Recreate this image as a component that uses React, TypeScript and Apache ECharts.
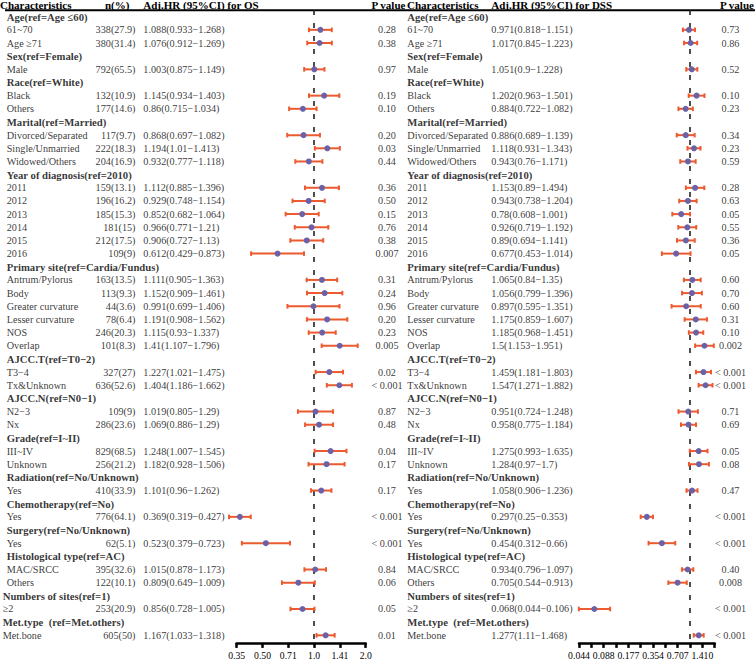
import React, { useEffect, useRef } from "react";
import * as echarts from "echarts";

// ---------- data ----------
const labels = [
  "Age(ref=Age ≤60)", "61~70", "Age ≥71",
  "Sex(ref=Female)", "Male",
  "Race(ref=White)", "Black", "Others",
  "Marital(ref=Married)", "Divorced/Separated", "Single/Unmarried", "Widowed/Others",
  "Year of diagnosis(ref=2010)", "2011", "2012", "2013", "2014", "2015", "2016",
  "Primary site(ref=Cardia/Fundus)", "Antrum/Pylorus", "Body", "Greater curvature", "Lesser curvature", "NOS", "Overlap",
  "AJCC.T(ref=T0−2)", "T3−4", "Tx&Unknown",
  "AJCC.N(ref=N0−1)", "N2−3", "Nx",
  "Grade(ref=I~II)", "III~IV", "Unknown",
  "Radiation(ref=No/Unknown)", "Yes",
  "Chemotherapy(ref=No)", "Yes",
  "Surgery(ref=No/Unknown)", "Yes",
  "Histological type(ref=AC)", "MAC/SRCC", "Others",
  "Numbers of sites(ref=1)", "≥2",
  "Met.type  (ref=Met.others)", "Met.bone",
];

const nPct = [
  null, "338(27.9)", "380(31.4)",
  null, "792(65.5)",
  null, "132(10.9)", "177(14.6)",
  null, "117(9.7)", "222(18.3)", "204(16.9)",
  null, "159(13.1)", "196(16.2)", "185(15.3)", "181(15)", "212(17.5)", "109(9)",
  null, "163(13.5)", "113(9.3)", "44(3.6)", "78(6.4)", "246(20.3)", "101(8.3)",
  null, "327(27)", "636(52.6)",
  null, "109(9)", "286(23.6)",
  null, "829(68.5)", "256(21.2)",
  null, "410(33.9)",
  null, "776(64.1)",
  null, "62(5.1)",
  null, "395(32.6)", "122(10.1)",
  null, "253(20.9)",
  null, "605(50)",
];

const osHR = [null, 1.088, 1.076, null, 1.003, null, 1.145, 0.86, null, 0.868, 1.194, 0.932, null, 1.112, 0.929, 0.852, 0.966, 0.906, 0.612, null, 1.111, 1.152, 0.991, 1.191, 1.115, 1.41, null, 1.227, 1.404, null, 1.019, 1.069, null, 1.248, 1.182, null, 1.101, null, 0.369, null, 0.523, null, 1.015, 0.809, null, 0.856, null, 1.167];
const osLo = [null, 0.933, 0.912, null, 0.875, null, 0.934, 0.715, null, 0.697, 1.01, 0.777, null, 0.885, 0.748, 0.682, 0.771, 0.727, 0.429, null, 0.905, 0.909, 0.699, 0.908, 0.93, 1.107, null, 1.021, 1.186, null, 0.805, 0.886, null, 1.007, 0.928, null, 0.96, null, 0.319, null, 0.379, null, 0.878, 0.649, null, 0.728, null, 1.033];
const osHi = [null, 1.268, 1.269, null, 1.149, null, 1.403, 1.034, null, 1.082, 1.413, 1.118, null, 1.396, 1.154, 1.064, 1.21, 1.13, 0.873, null, 1.363, 1.461, 1.406, 1.562, 1.337, 1.796, null, 1.475, 1.662, null, 1.29, 1.29, null, 1.545, 1.506, null, 1.262, null, 0.427, null, 0.723, null, 1.173, 1.009, null, 1.005, null, 1.318];
const osP = [null, "0.28", "0.38", null, "0.97", null, "0.19", "0.10", null, "0.20", "0.03", "0.44", null, "0.36", "0.50", "0.15", "0.76", "0.38", "0.007", null, "0.31", "0.24", "0.96", "0.20", "0.23", "0.005", null, "0.02", "< 0.001", null, "0.87", "0.48", null, "0.04", "0.17", null, "0.17", null, "< 0.001", null, "< 0.001", null, "0.84", "0.06", null, "0.05", null, "0.01"];

const dssHR = [null, 0.971, 1.017, null, 1.051, null, 1.202, 0.884, null, 0.886, 1.118, 0.943, null, 1.153, 0.943, 0.78, 0.926, 0.89, 0.677, null, 1.065, 1.056, 0.897, 1.175, 1.185, 1.5, null, 1.459, 1.547, null, 0.951, 0.958, null, 1.275, 1.284, null, 1.058, null, 0.297, null, 0.454, null, 0.934, 0.705, null, 0.068, null, 1.277];
const dssLo = [null, 0.818, 0.845, null, 0.9, null, 0.963, 0.722, null, 0.689, 0.931, 0.76, null, 0.89, 0.738, 0.608, 0.719, 0.694, 0.453, null, 0.84, 0.799, 0.595, 0.859, 0.968, 1.153, null, 1.181, 1.271, null, 0.724, 0.775, null, 0.993, 0.97, null, 0.906, null, 0.25, null, 0.312, null, 0.796, 0.544, null, 0.044, null, 1.11];
const dssHi = [null, 1.151, 1.223, null, 1.228, null, 1.501, 1.082, null, 1.139, 1.343, 1.171, null, 1.494, 1.204, 1.001, 1.192, 1.141, 1.014, null, 1.35, 1.396, 1.351, 1.607, 1.451, 1.951, null, 1.803, 1.882, null, 1.248, 1.184, null, 1.635, 1.7, null, 1.236, null, 0.353, null, 0.66, null, 1.097, 0.913, null, 0.106, null, 1.468];
const dssP = [null, "0.73", "0.86", null, "0.52", null, "0.10", "0.23", null, "0.34", "0.23", "0.59", null, "0.28", "0.63", "0.05", "0.55", "0.36", "0.05", null, "0.60", "0.70", "0.60", "0.31", "0.10", "0.002", null, "< 0.001", "< 0.001", null, "0.71", "0.69", null, "0.05", "0.08", null, "0.47", null, "< 0.001", null, "< 0.001", null, "0.40", "0.008", null, "< 0.001", null, "< 0.001"];

const osTickLabels = ["0.35", "0.50", "0.71", "1.0", "1.41", "2.0"];
const dssTickLabels = ["0.044", "", "0.088", "", "0.177", "", "0.354", "", "0.707", "", "1.410", ""];

const headerTexts = {
  chars: "Characteristics",
  n: "n(%)",
  osHR: "Adj.HR (95%CI) for OS",
  pv: "P value",
  dssHR: "Adj.HR (95%CI) for DSS",
};

// ---------- layout / style ----------
const W = 755;
const H = 662;
const FONT = "'Liberation Serif', 'Times New Roman', serif";
const GRID_TOP = 10.1;
const GRID_BOTTOM = 20.1;
const CI_COLOR = "#ec5a2f";
const PT_COLOR = "#6a62a8";
const ITEM_FS = 10.2;
const GROUP_FS = 10.7;
const HEAD_FS = 11;

const rowIds = labels.map((_, i) => String(i));
const isHeader = (i: number) => nPct[i] === null;
const log2 = (v: number) => Math.log(v) / Math.LN2;
const hrText = (h: number, l: number, u: number) => `${h}(${l}−${u})`;

type TItem = { i: number; t: string; bold?: boolean };

function textSeries(x: number, items: TItem[], position: string) {
  return {
    type: "scatter",
    xAxisIndex: 0,
    yAxisIndex: 0,
    silent: true,
    symbolSize: 1,
    itemStyle: { color: "rgba(0,0,0,0)" },
    label: {
      show: true,
      position,
      distance: 0,
      color: "#000",
      fontFamily: FONT,
      fontSize: ITEM_FS,
      formatter: (p: any) => p.data.t,
    },
    data: items.map((d) => ({
      value: [x, d.i],
      t: d.t,
      label: d.bold ? { fontWeight: "bold", fontSize: GROUP_FS } : undefined,
    })),
  };
}

function ciSeries(axis: number, lo: (number | null)[], hi: (number | null)[]) {
  const data: number[][] = [];
  lo.forEach((l, i) => {
    if (l !== null && hi[i] !== null) data.push([log2(l), log2(hi[i] as number), i]);
  });
  return {
    type: "custom",
    xAxisIndex: axis,
    yAxisIndex: axis,
    silent: true,
    clip: false,
    z: 3,
    encode: { x: [0, 1], y: 2 },
    data,
    renderItem: (_params: any, api: any) => {
      const a = api.coord([api.value(0), api.value(2)]);
      const b = api.coord([api.value(1), api.value(2)]);
      const h = 2.3;
      const st = { stroke: CI_COLOR, lineWidth: 2 };
      return {
        type: "group",
        children: [
          { type: "line", shape: { x1: a[0], y1: a[1], x2: b[0], y2: b[1] }, style: st },
          { type: "line", shape: { x1: a[0], y1: a[1] - h, x2: a[0], y2: a[1] + h }, style: st },
          { type: "line", shape: { x1: b[0], y1: b[1] - h, x2: b[0], y2: b[1] + h }, style: st },
        ],
      };
    },
  };
}

function pointSeries(axis: number, hr: (number | null)[]) {
  const data: number[][] = [];
  hr.forEach((v, i) => {
    if (v !== null) data.push([log2(v), i]);
  });
  return {
    type: "scatter",
    xAxisIndex: axis,
    yAxisIndex: axis,
    silent: true,
    symbol: "circle",
    symbolSize: 6,
    z: 4,
    clip: false,
    itemStyle: { color: PT_COLOR, opacity: 1 },
    data,
  };
}

function refLine(axis: number) {
  return {
    type: "scatter",
    xAxisIndex: axis,
    yAxisIndex: axis,
    silent: true,
    data: [],
    markLine: {
      silent: true,
      symbol: "none",
      z: 1,
      label: { show: false },
      lineStyle: { color: "#222", width: 1.6, type: [5, 8] },
      data: [{ xAxis: 0 }],
    },
  };
}

function forestXAxis(grid: number, min: number, tickLabels: string[]) {
  return {
    gridIndex: grid,
    type: "value",
    min,
    max: 1,
    interval: 0.5,
    offset: 1,
    splitLine: { show: false },
    axisLine: { show: true, lineStyle: { color: "#000", width: 2.5 } },
    axisTick: { show: true, length: 5, lineStyle: { color: "#000", width: 2.5 } },
    axisLabel: {
      show: true,
      margin: 8,
      color: "#000",
      fontFamily: FONT,
      fontSize: 9.7,
      showMinLabel: true,
      showMaxLabel: true,
      formatter: (v: number) => {
        const k = Math.round((v - min) / 0.5);
        return tickLabels[k] ?? "";
      },
    },
  };
}

function buildOption() {
  const idx = labels.map((_, i) => i);
  const leftNames: TItem[] = idx.map((i) => ({ i, t: labels[i], bold: isHeader(i) }));
  const leftNamesA = leftNames.filter((d) => d.i < 44);
  const leftNamesB = leftNames.filter((d) => d.i >= 44);
  const nItems: TItem[] = idx.filter((i) => !isHeader(i)).map((i) => ({ i, t: nPct[i] as string }));
  const osHrItems: TItem[] = idx
    .filter((i) => !isHeader(i))
    .map((i) => ({ i, t: hrText(osHR[i] as number, osLo[i] as number, osHi[i] as number) }));
  const osPItems: TItem[] = idx.filter((i) => !isHeader(i)).map((i) => ({ i, t: osP[i] as string }));
  const dssHrItems: TItem[] = idx
    .filter((i) => !isHeader(i))
    .map((i) => ({ i, t: hrText(dssHR[i] as number, dssLo[i] as number, dssHi[i] as number) }));
  const dssPItems: TItem[] = idx.filter((i) => !isHeader(i)).map((i) => ({ i, t: dssP[i] as string }));

  const headStyle = { fontFamily: FONT, fontSize: HEAD_FS, fontWeight: "bold", fill: "#000", verticalAlign: "middle" };
  const headY = 4.6;

  return {
    animation: false,
    backgroundColor: "#fff",
    textStyle: { fontFamily: FONT },
    grid: [
      { left: 0, right: 0, top: GRID_TOP, bottom: GRID_BOTTOM },
      { left: 236.7, right: W - 365.7, top: GRID_TOP, bottom: GRID_BOTTOM },
      { left: 579, right: W - 714.7, top: GRID_TOP, bottom: GRID_BOTTOM },
    ],
    xAxis: [
      { gridIndex: 0, type: "value", min: 0, max: W, show: false },
      forestXAxis(1, -1.5, osTickLabels),
      forestXAxis(2, -4.5, dssTickLabels),
    ],
    yAxis: [0, 1, 2].map((g) => ({
      gridIndex: g,
      type: "category",
      inverse: true,
      data: rowIds,
      show: false,
    })),
    graphic: [
      { type: "line", silent: true, shape: { x1: 5, y1: 10.3, x2: W, y2: 10.3 }, style: { stroke: "#000", lineWidth: 2 } },
      { type: "text", silent: true, x: 0, y: headY, style: { ...headStyle, text: headerTexts.chars } },
      { type: "text", silent: true, x: 105, y: headY, style: { ...headStyle, text: headerTexts.n } },
      { type: "text", silent: true, x: 143.3, y: headY, style: { ...headStyle, text: headerTexts.osHR } },
      { type: "text", silent: true, x: 371.5, y: headY, style: { ...headStyle, text: headerTexts.pv } },
      { type: "text", silent: true, x: 407, y: headY, style: { ...headStyle, text: headerTexts.chars } },
      { type: "text", silent: true, x: 491.3, y: headY, style: { ...headStyle, text: headerTexts.dssHR } },
      { type: "text", silent: true, x: 720, y: headY, style: { ...headStyle, text: headerTexts.pv } },
    ],
    series: [
      textSeries(6.2, leftNamesA, "right"),
      textSeries(2.2, leftNamesB, "right"),
      textSeries(136, nItems, "left"),
      textSeries(142.8, osHrItems, "right"),
      textSeries(387, osPItems, "inside"),
      textSeries(406.8, leftNames, "right"),
      textSeries(490.8, dssHrItems, "right"),
      textSeries(730.5, dssPItems, "inside"),
      refLine(1),
      refLine(2),
      ciSeries(1, osLo, osHi),
      ciSeries(2, dssLo, dssHi),
      pointSeries(1, osHR),
      pointSeries(2, dssHR),
    ],
  };
}

export default function App() {
  const ref = useRef<HTMLDivElement>(null);
  useEffect(() => {
    if (!ref.current) return;
    const chart = echarts.init(ref.current, undefined, { renderer: "svg" });
    chart.setOption(buildOption() as any);
    return () => chart.dispose();
  }, []);
  return (
    <div
      ref={ref}
      style={{ position: "absolute", left: 0, top: 0, width: W, height: H, background: "#fff" }}
    />
  );
}
